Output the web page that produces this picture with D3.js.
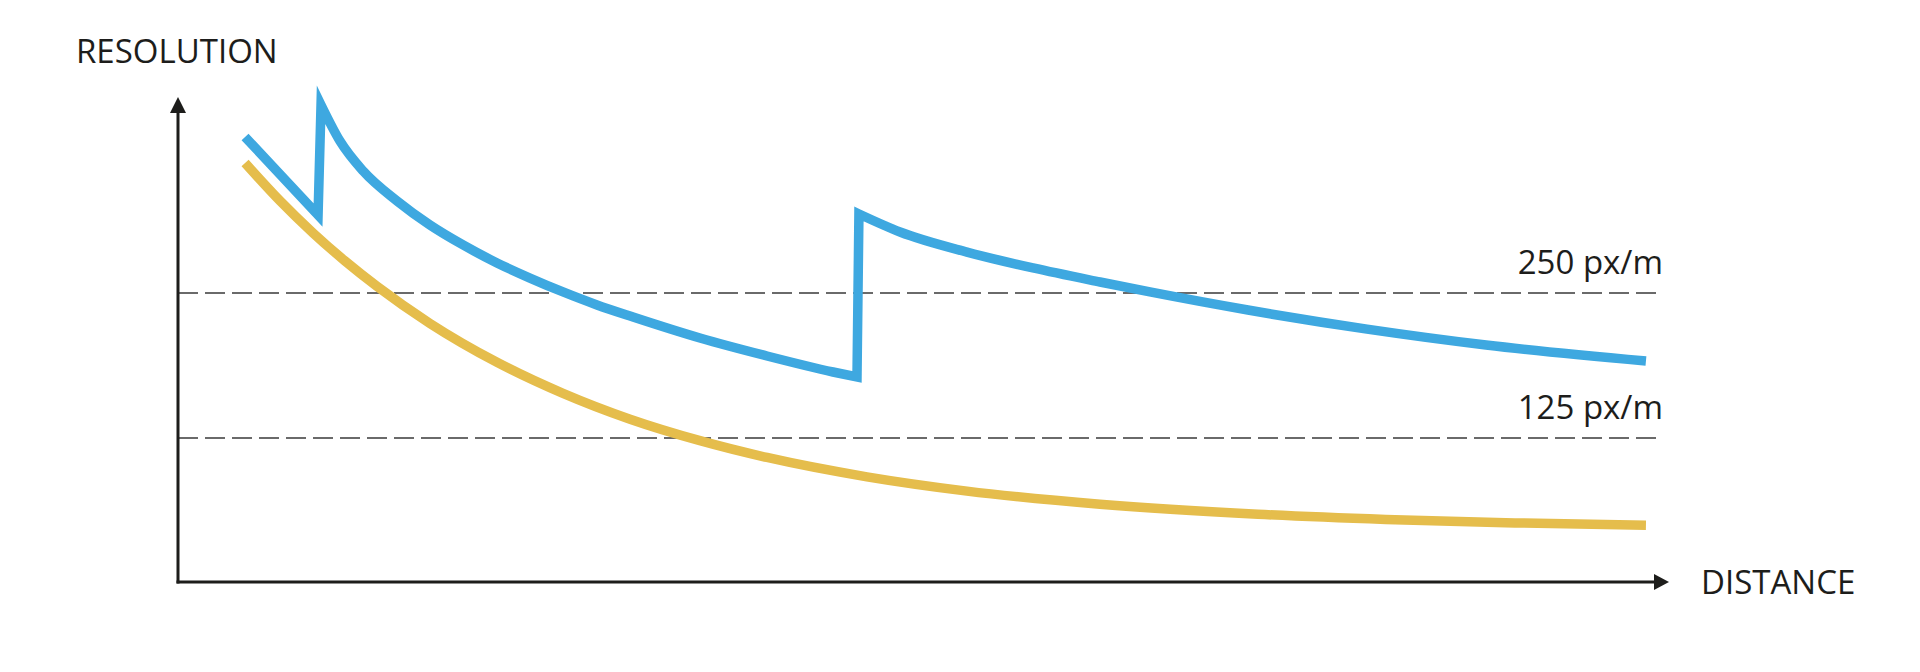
<!DOCTYPE html>
<html><head><meta charset="utf-8">
<script src="https://cdn.jsdelivr.net/npm/d3@7"></script>
<style>
html,body{margin:0;padding:0;background:#fff;}
svg{display:block;}
text{font-family:"Open Sans",sans-serif;fill:#1d1d1b;}
</style>
</head><body>
<svg id="chart" width="1920" height="672"></svg>
<script>
// ---- data ----
const blueDistance   = [4.50, 6.95, 9.40, 9.60, 10.87, 12.42, 14.70, 16.91, 19.13, 21.41, 23.62, 25.84, 28.12, 30.54, 35.03, 39.53, 43.96, 45.57, 45.70, 48.46, 52.95, 57.38, 61.88, 65.23, 71.81, 79.80, 87.79, 98.52];
const blueResolution = [384.5, 350.9, 317.2, 412.1, 381.0, 355.2, 329.3, 308.6, 291.4, 275.9, 262.9, 250.9, 239.7, 229.3, 211.2, 195.7, 181.9, 177.6, 318.1, 302.6, 285.3, 271.6, 259.5, 250.9, 235.3, 218.9, 205.2, 191.4];
const blueSegmentStarts = [0, 3, 18]; // indices where a new smooth piece starts (vertical jumps between)
const yellowDistance   = [4.50, 6.85, 9.06, 11.21, 13.36, 16.91, 21.41, 25.84, 30.34, 35.03, 39.53, 46.24, 52.95, 61.88, 72.48, 81.07, 89.73, 98.52];
const yellowResolution = [362.1, 329.4, 301.8, 277.6, 255.7, 223.8, 190.3, 163.5, 141.2, 122.7, 108.2, 91.5, 79.2, 67.9, 59.3, 54.8, 51.8, 49.7];
const thresholdValues = [250, 125];
const thresholdLabels = ["250 px/m", "125 px/m"];
const yAxisTitle = "RESOLUTION";
const xAxisTitle = "DISTANCE";

// ---- chart ----
const svg = d3.select("#chart");
const x = d3.scaleLinear().domain([0, 100]).range([178, 1668]);
const y = d3.scaleLinear().domain([0, 250]).range([583, 293]);
const axisColor = "#1d1d1b";

// threshold dashed lines
thresholdValues.forEach((v, i) => {
  svg.append("line")
    .attr("x1", x(0)).attr("x2", 1662)
    .attr("y1", y(v)).attr("y2", y(v))
    .attr("stroke", "#3a3a3a").attr("stroke-width", 1.6)
    .attr("stroke-dasharray", "20,7");
  svg.append("text")
    .attr("x", 1663).attr("y", y(v) - 19)
    .attr("text-anchor", "end")
    .attr("font-size", 33)
    .text(thresholdLabels[i]);
});

// axes
const x0 = x(0), yBase = y(0) - 1;
svg.append("line").attr("x1", x0).attr("x2", x0).attr("y1", yBase + 1.5).attr("y2", 110)
  .attr("stroke", axisColor).attr("stroke-width", 3);
svg.append("path").attr("d", `M${x0},97 L${x0 - 8},113 L${x0 + 8},113 Z`).attr("fill", axisColor);
svg.append("line").attr("x1", x0 - 1.5).attr("x2", 1656).attr("y1", yBase).attr("y2", yBase)
  .attr("stroke", axisColor).attr("stroke-width", 3);
svg.append("path").attr("d", `M1669,${yBase} L1654,${yBase - 8} L1654,${yBase + 8} Z`).attr("fill", axisColor);

svg.append("text").attr("x", 76).attr("y", 63).attr("font-size", 33).text(yAxisTitle);
svg.append("text").attr("x", 1701).attr("y", 594).attr("font-size", 33).text(xAxisTitle);

// curves
const smooth = d3.line().x(d => x(d[0])).y(d => y(d[1])).curve(d3.curveMonotoneX);

const yellowPts = yellowDistance.map((d, i) => [d, yellowResolution[i]]);
svg.append("path").attr("d", smooth(yellowPts))
  .attr("fill", "none").attr("stroke", "#e5bd4c").attr("stroke-width", 9.5);

const bluePts = blueDistance.map((d, i) => [d, blueResolution[i]]);
let blueD = "";
blueSegmentStarts.forEach((s, k) => {
  const e = k + 1 < blueSegmentStarts.length ? blueSegmentStarts[k + 1] : bluePts.length;
  let piece = smooth(bluePts.slice(s, e));
  if (k > 0) piece = "L" + piece.slice(1);
  blueD += piece;
});
svg.append("path").attr("d", blueD)
  .attr("fill", "none").attr("stroke", "#3ea8e0").attr("stroke-width", 9.5)
  .attr("stroke-linejoin", "miter").attr("stroke-miterlimit", 10);
</script>
</body></html>
